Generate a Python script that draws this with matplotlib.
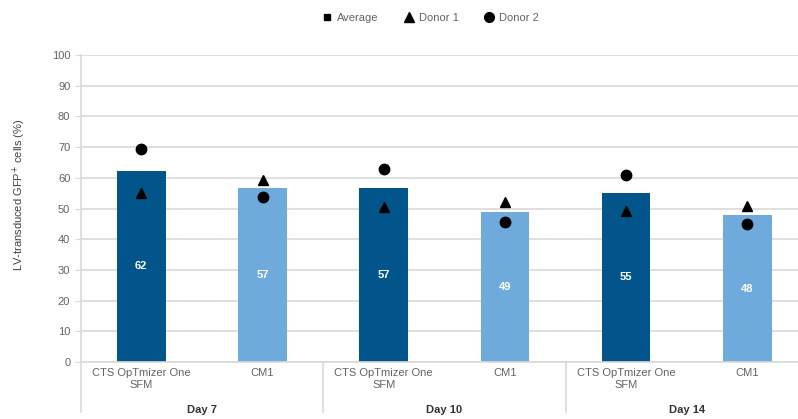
import numpy as np
import matplotlib.pyplot as plt
from matplotlib.lines import Line2D
import matplotlib.transforms as mtransforms

plt.rcParams['font.family'] = ['Liberation Sans', 'DejaVu Sans']

# data
categories = ['CTS OpTmizer One\nSFM', 'CM1'] * 3
groups = ['Day 7', 'Day 10', 'Day 14']
average = [62.3, 56.6, 56.7, 48.8, 55.1, 47.8]
donor1 = [55.2, 59.2, 50.4, 52.0, 49.2, 50.9]
donor2 = [69.4, 53.8, 63.0, 45.7, 61.0, 44.8]
y_ticks = [0, 10, 20, 30, 40, 50, 60, 70, 80, 90, 100]

dark_blue = '#02558b'
light_blue = '#6eaadc'
grid_col = '#d9d9d9'
tick_col = '#636363'

W, H = 798, 419
fig = plt.figure(figsize=(W / 100, H / 100), dpi=100)
# axes runs past the right edge, the reference is cropped there
left, right, top, bottom = 80.7, 808, 55, 362
ax = fig.add_axes([left / W, 1 - bottom / H, (right - left) / W, (bottom - top) / H])

x = np.arange(len(categories))
colors = [dark_blue if i % 2 == 0 else light_blue for i in x]
bars = ax.bar(x, average, width=0.4, color=colors, zorder=2)

for xi, v in zip(x, average):
    ax.text(xi, v / 2, f'{v:.0f}', ha='center', va='center', color='white',
            fontsize=8, fontweight='bold', zorder=3)

ax.plot(x, donor1, linestyle='none', marker='^', color='black', markersize=7.5, zorder=4)
ax.plot(x, donor2, linestyle='none', marker='o', color='black', markersize=7.5, zorder=4)

ax.set_xlim(-0.5, len(categories) - 0.5)
ax.set_ylim(0, 100)
ax.set_yticks(y_ticks)
ax.set_yticklabels([str(t) for t in y_ticks], fontsize=8, color=tick_col)
ax.set_xticks(x)
ax.set_xticklabels(categories, fontsize=8, color=tick_col, linespacing=1.25)
ax.tick_params(axis='x', length=0, pad=4)
ax.tick_params(axis='y', length=4.5, width=0.8, color=grid_col, pad=3)
ax.yaxis.grid(True, color=grid_col, linewidth=1.2, zorder=0)
ax.set_axisbelow(True)

for side in ['top', 'right']:
    ax.spines[side].set_visible(False)
for side in ['left', 'bottom']:
    ax.spines[side].set_color(grid_col)
    ax.spines[side].set_linewidth(1.2)

# group separators and group labels below the axis
trans = mtransforms.blended_transform_factory(ax.transData, ax.transAxes)
sep_bottom = -(412 - bottom) / (bottom - top)
for xs in [-0.5, 1.5, 3.5, 5.5]:
    ax.plot([xs, xs], [0, sep_bottom], color=grid_col, linewidth=1.2,
            transform=trans, clip_on=False)
for i, g in enumerate(groups):
    ax.text(2 * i + 0.5, -(410 - bottom) / (bottom - top), g, transform=trans,
            ha='center', va='center', fontsize=8, fontweight='bold', color='#333333')

fig.text(19 / W, 1 - 195 / H, 'LV-transduced GFP$^{+}$ cells (%)', rotation=90,
         ha='center', va='center', fontsize=8, color='#404040')

handles = [
    Line2D([], [], linestyle='none', marker='s', color='black', markersize=5),
    Line2D([], [], linestyle='none', marker='^', color='black', markersize=7),
    Line2D([], [], linestyle='none', marker='o', color='black', markersize=7),
]
leg = fig.legend(handles, ['Average', 'Donor 1', 'Donor 2'], loc='center',
                 bbox_to_anchor=(430 / W, 1 - 18 / H), ncol=3, frameon=False,
                 fontsize=8, handlelength=1.0, handletextpad=0.4, columnspacing=2.2)
for t in leg.get_texts():
    t.set_color(tick_col)

fig.savefig('out.png', dpi=100)
